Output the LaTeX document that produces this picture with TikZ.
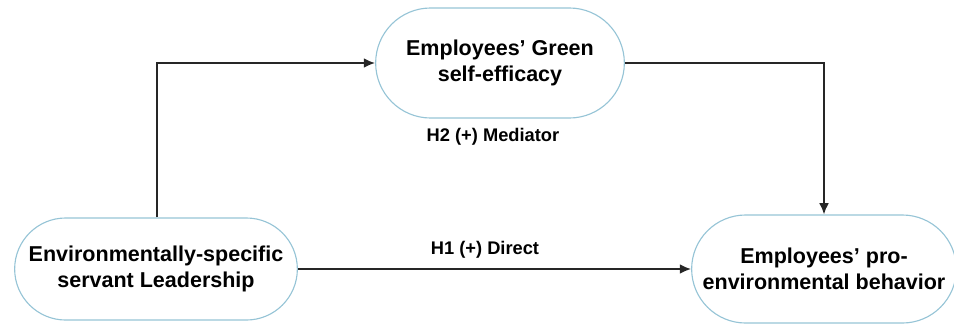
\documentclass[tikz,border=0pt]{standalone}
\usepackage{fontspec}
\setmainfont{Liberation Sans}
\usepackage{tikz}
\usetikzlibrary{positioning,shapes.misc,arrows.meta}
\definecolor{pillline}{RGB}{150,196,214}

\begin{document}
\begin{tikzpicture}[x = .025cm, y = -.025cm,
    pill/.style = {draw = pillline, line width = .8pt, rounded rectangle, align = center,
                   font = \fontsize{15.3}{18.5}\selectfont\bfseries},
    link/.style = {-{Latex[length=8pt,width=7pt]}, line width = 1.3pt, draw = black!85},
    hyp/.style = {font = \fontsize{13}{15}\selectfont\bfseries}]
    \useasboundingbox (0,0) rectangle (954,324);
    \node[pill, minimum width = 7.3cm, minimum height = 2.55cm] (esl) at (156,269) {Environmentally-specific\\servant Leadership};
    \node[pill, minimum width = 6.45cm, minimum height = 2.75cm] (gse) at (500,63) {Employees’ Green\\self-efficacy};
    \node[pill, minimum width = 6.85cm, minimum height = 2.7cm] (peb) at (824,269) {Employees’ pro-\\environmental behavior};
    \node[hyp] (h2) at (493,137) {H2 (+) Mediator};
    \node[hyp] (h1) at (485,250) {H1 (+) Direct};
    \coordinate (bend) at (157,63);
    \draw[link] (esl.north -| bend) -- (bend) -- (gse.west);
    \draw[link] (gse.east) -| (peb.north);
    \draw[link] (esl.east) -- (peb.west);
\end{tikzpicture}
\end{document}
